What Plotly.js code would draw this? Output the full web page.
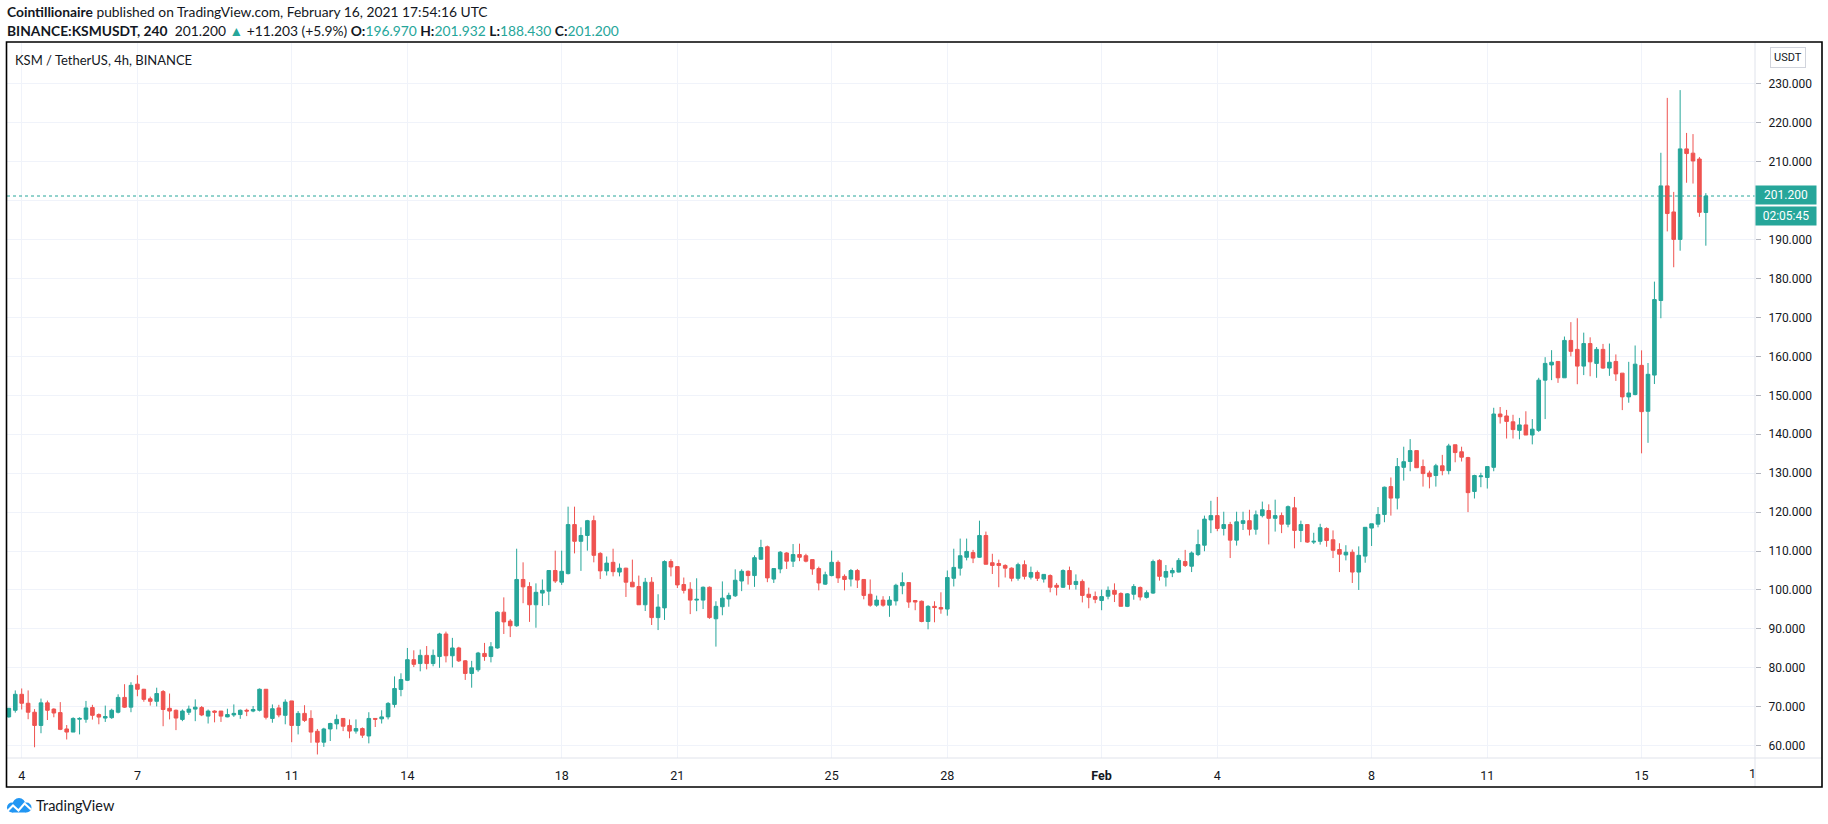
<!DOCTYPE html>
<html>
<head>
<meta charset="utf-8">
<script src="https://cdn.plot.ly/plotly-3.0.1.min.js"></script>
<style>
  html, body { margin: 0; padding: 0; background: #ffffff; }
  #chart { width: 1828px; height: 824px; }
</style>
</head>
<body>
<div id="chart"></div>
<script>
// ---- Data: KSM/USDT 4h candles, first bar 2021-01-03 16:00 UTC ----
const firstBar = '2021-01-03T16:00:00Z';
const barHours = 4;

const openP = [
67.4,69.1,73.2,70.9,68.6,65.2,71.0,69.4,68.5,64.3,63.5,66.8,66.8,69.8,68.0,67.1,67.2,68.6,72.4,69.9,
75.8,74.5,72.05,71.4,73.9,69.6,69.1,66.75,68.6,69.4,69.8,67.6,68.9,68.9,67.4,67.9,68.0,69.1,68.9,69.1,
74.5,67.0,69.7,67.8,71.5,65.2,68.3,67.0,63.7,60.9,64.3,65.6,67.0,65.2,63.75,64.4,62.5,67.0,66.9,67.4,
70.6,74.45,76.8,82.1,81.1,83.2,81.1,82.9,88.7,83.1,85.1,81.8,78.55,79.5,83.7,82.9,85.1,94.3,92.0,90.8,
102.7,100.9,96.2,99.2,99.7,105.0,102.0,104.2,116.8,112.5,114.0,117.8,109.4,104.9,107.1,104.6,105.6,102.0,100.9,96.2,
102.0,92.9,95.4,107.3,106.0,101.4,100.2,97.4,97.4,100.7,92.6,95.7,97.7,98.5,102.3,104.8,103.7,107.9,111.1,102.8,
105.4,109.5,107.4,109.1,108.8,107.8,105.5,101.5,103.7,107.1,103.5,102.8,105.0,102.7,98.9,96.1,97.4,96.1,97.2,101.1,
101.9,97.3,97.1,91.9,95.8,95.5,95.1,103.0,105.6,108.4,109.6,108.4,114.0,107.0,106.8,106.3,105.6,103.0,106.5,103.3,
104.5,102.8,103.7,101.2,100.7,105.0,101.4,102.2,98.9,98.3,97.3,98.4,99.9,99.1,95.8,98.9,100.65,98.1,99.2,107.6,
103.3,104.4,104.6,107.3,106.1,109.1,111.5,118.0,119.1,115.8,116.8,112.8,117.1,117.8,115.6,119.1,120.4,118.4,119.1,116.9,
121.1,115.3,116.8,112.3,112.5,115.8,112.9,110.4,109.0,109.7,104.6,108.7,115.9,116.9,119.4,126.55,123.6,131.5,133.0,135.8,
131.7,130.05,129.4,131.9,130.65,137.3,135.5,134.0,125.3,129.1,128.9,131.5,145.2,144.7,143.2,141.0,142.4,139.8,141.0,153.9,
157.8,158.7,154.5,164.1,161.8,157.5,163.3,158.2,161.8,157.0,158.7,155.7,149.6,150.2,157.7,145.9,155.2,174.35,203.8,197.1,
190.05,213.3,212.2,210.7,196.97
];
const highP = [
69.7,74.2,74.7,74.2,69.4,72.1,71.6,69.6,71.2,65.3,67.3,67.3,71.5,70.5,68.3,70.3,69.5,73.2,75.8,76.3,
78.1,74.6,72.6,74.9,74.3,73.4,69.3,69.3,70.3,71.9,70.2,69.3,69.1,68.9,69.5,70.6,69.3,69.5,70.2,74.7,
74.5,70.6,70.5,71.9,71.5,68.9,70.4,69.1,64.3,64.6,65.9,68.0,67.0,66.75,66.75,64.7,68.6,67.0,69.1,71.2,
77.8,78.6,85.1,84.5,84.7,85.6,84.7,89.0,89.3,87.7,85.4,82.0,81.8,84.1,86.4,86.6,94.55,98.1,92.5,110.6,
107.1,102.0,101.7,102.7,105.0,110.1,110.1,121.4,121.4,116.1,118.0,119.1,109.7,108.6,110.6,106.8,105.7,107.8,103.7,103.1,
103.3,98.9,107.6,107.9,106.0,103.2,102.0,103.0,100.9,100.9,97.1,102.2,99.3,105.3,105.3,105.0,108.9,112.9,111.4,105.5,
110.0,109.7,111.8,111.9,109.3,107.8,106.0,104.7,110.1,107.6,104.0,105.4,105.4,102.7,102.7,98.55,98.4,98.4,101.6,104.5,
101.9,97.4,97.3,96.1,97.1,99.4,105.0,110.6,113.2,113.2,110.3,117.8,115.0,109.3,107.8,106.6,105.8,107.0,107.6,106.0,
105.0,104.1,104.0,101.8,105.3,106.0,104.0,102.7,100.6,99.6,100.1,100.9,101.7,99.4,99.2,101.5,100.9,99.9,107.8,107.9,
106.4,105.7,108.2,110.3,109.9,115.5,119.1,122.9,123.9,120.1,117.5,120.1,120.1,120.6,120.4,122.7,122.0,123.2,119.9,121.7,
123.9,117.8,116.95,114.7,117.0,116.1,115.3,112.0,111.5,110.4,111.2,116.1,117.0,121.3,126.55,128.9,133.9,136.8,138.75,135.8,
133.5,130.65,132.4,134.7,137.55,137.3,136.8,134.2,129.6,130.1,131.7,146.8,147.0,146.25,145.0,144.2,145.9,143.9,154.5,159.8,
161.6,158.7,165.1,168.8,169.8,166.1,164.9,162.4,163.2,163.3,160.5,155.7,158.6,162.8,161.55,158.3,179.2,212.3,226.4,202.25,
228.4,217.4,217.1,211.2,201.932
];
const lowP = [
67.2,68.5,69.3,66.8,59.6,63.2,66.6,67.3,64.0,61.6,63.5,62.9,65.9,66.7,65.5,66.1,66.9,68.3,69.7,68.6,
72.7,71.3,70.3,70.1,65.0,66.75,64.0,66.3,67.9,66.3,67.6,65.7,66.0,66.1,67.3,67.4,66.9,67.6,68.6,68.8,
66.75,65.9,67.3,65.5,60.9,62.9,66.1,60.75,57.75,59.7,61.2,64.2,63.75,61.9,63.1,62.0,60.6,64.8,65.7,66.75,
69.8,72.7,76.6,80.2,79.1,79.6,80.4,80.0,81.4,80.1,81.5,76.9,74.9,79.0,81.8,81.4,84.9,88.7,87.9,90.55,
96.6,91.8,90.3,95.9,96.1,101.8,101.3,104.0,109.4,104.9,110.1,107.1,102.8,103.7,103.5,103.5,98.2,100.8,96.2,94.6,
91.0,89.7,92.3,103.5,100.5,99.1,93.8,94.55,95.1,92.6,85.45,93.5,95.7,98.2,99.7,101.4,100.8,107.8,102.0,101.8,
104.3,105.4,105.9,107.4,107.1,103.9,99.9,101.3,103.5,101.8,99.9,100.9,100.5,97.6,95.7,95.7,95.7,93.1,96.0,98.9,
95.4,94.8,91.7,89.9,91.7,93.9,93.4,100.9,103.7,107.6,106.9,108.3,106.6,104.1,100.7,103.2,102.2,102.4,102.7,102.7,
102.3,101.9,99.4,98.6,100.5,100.1,100.1,96.8,95.3,96.6,94.8,97.6,96.9,95.8,95.6,97.5,97.3,97.8,99.0,102.4,
100.9,103.3,104.5,105.9,104.6,108.7,109.95,114.6,115.1,114.0,108.2,111.4,115.4,114.0,114.2,118.65,111.7,115.0,114.6,116.1,
110.7,112.3,112.1,111.8,111.65,111.1,108.2,104.6,107.6,101.8,100.0,107.0,111.3,116.1,117.4,119.1,120.7,128.1,130.5,131.4,
126.55,126.1,126.55,129.45,129.7,132.8,133.0,120.0,123.5,126.4,126.05,130.5,142.75,138.9,138.9,138.7,139.8,137.4,140.6,143.9,
153.9,153.2,154.5,160.0,152.85,155.2,154.9,154.5,156.8,155.0,153.7,146.2,148.1,150.0,135.1,137.8,152.9,169.8,192.1,182.9,
187.15,204.6,204.4,195.85,188.43
];
const closeP = [
69.6,73.2,70.9,68.6,65.2,71.0,69.1,68.4,64.2,63.5,67.0,67.0,69.7,67.8,67.35,67.5,69.1,72.4,69.9,75.5,
74.5,71.9,71.4,73.4,69.3,68.9,67.1,68.9,69.4,69.9,67.9,68.9,68.6,67.6,68.0,68.3,69.1,68.9,69.3,74.5,
67.3,69.5,67.9,71.2,65.2,68.3,66.5,63.5,60.9,64.3,65.7,66.75,65.0,63.75,64.4,62.7,67.0,66.8,67.4,70.86,
74.7,77.0,82.1,80.9,83.2,81.1,83.2,88.7,83.1,85.1,81.8,78.55,80.0,83.8,82.9,85.4,94.3,91.8,90.8,102.7,
100.8,96.2,99.4,99.9,105.0,102.3,104.8,116.8,112.5,114.0,117.8,108.9,104.9,106.9,104.7,105.6,102.0,100.8,96.2,102.0,
92.9,95.6,107.3,105.9,101.3,99.9,97.4,97.6,100.7,92.9,95.8,97.9,98.6,102.5,104.8,103.7,108.3,110.9,103.1,105.5,
109.7,107.4,109.1,108.4,107.4,105.4,101.8,103.9,107.1,103.1,102.7,105.0,102.55,98.6,96.1,97.4,96.1,97.4,101.2,101.9,
96.9,96.9,91.9,95.8,95.5,95.1,103.2,105.8,108.8,109.9,108.2,114.0,106.6,106.3,106.3,105.6,103.0,106.5,103.5,104.5,
103.0,104.0,100.7,100.7,105.0,101.4,102.2,98.6,98.1,97.6,98.3,99.9,98.9,95.8,99.0,100.9,98.2,99.3,107.3,103.5,
104.75,105.0,107.6,106.3,109.5,111.65,118.2,119.1,115.8,116.8,112.8,117.5,117.8,115.6,119.3,120.6,118.4,119.1,116.9,121.4,
115.3,116.8,112.3,112.5,116.0,112.7,110.2,109.2,109.7,104.6,108.9,116.1,117.0,119.4,126.4,123.6,131.7,132.95,135.8,131.4,
129.9,129.1,131.9,130.65,137.0,135.3,134.1,125.0,129.4,129.3,131.7,145.2,144.5,143.3,141.2,142.4,139.8,141.3,153.9,158.2,
158.5,154.5,164.1,161.3,157.5,163.3,158.6,161.8,157.0,158.5,155.5,149.6,150.6,158.0,145.8,155.4,174.6,203.8,196.7,190.05,
213.3,212.1,210.2,197.0,201.2
];

// axis ticks
const dayTicks  = ['2021-01-04','2021-01-07','2021-01-11','2021-01-14','2021-01-18','2021-01-21','2021-01-25',
                   '2021-01-28','2021-02-01','2021-02-04','2021-02-08','2021-02-11','2021-02-15'];
const dayLabels = ['4','7','11','14','18','21','25','28','<b>Feb</b>','4','8','11','15'];
const priceTicks = [60,70,80,90,100,110,120,130,140,150,160,170,180,190,200,210,220,230];
// the 200 label is hidden behind the last-price box in the reference
const priceLabels = priceTicks.map(v => (v === 200 ? '' : v.toFixed(3)));

const lastPrice = 201.2;
const countdown = '02:05:45';

// build bar timestamps
const times = [];
const t0 = Date.parse(firstBar);
for (let i = 0; i < closeP.length; i++) {
  times.push(new Date(t0 + i * barHours * 3600e3).toISOString().slice(0, 16).replace('T', ' '));
}

const UP = '#26a69a', DOWN = '#ef5350', TXT = '#131722', GRID = '#f0f3fa', BORDER = '#e0e3eb';
const FONT = 'Roboto, "DejaVu Sans", sans-serif';
const HFONT = '"Liberation Sans Narrow", Lato, "Open Sans", sans-serif';

const trace = {
  type: 'candlestick',
  x: times, open: openP, high: highP, low: lowP, close: closeP,
  increasing: { line: { color: UP, width: 1 }, fillcolor: UP },
  decreasing: { line: { color: DOWN, width: 1 }, fillcolor: DOWN },
  whiskerwidth: 0,
  showlegend: false,
  hoverinfo: 'skip'
};

const W = 1828, H = 824;
const L = 7, R = 73, T = 43, B = 66;
const pw = W - L - R, ph = H - T - B;
const px = x => (x - L) / pw;           // pixel -> paper x
const py = y => (H - B - y) / ph;       // pixel -> paper y

const logoSvg = '<svg xmlns="http://www.w3.org/2000/svg" width="26" height="16" viewBox="0 0 26 16">' +
  '<circle cx="6" cy="10" r="5" fill="#2196f3"/><circle cx="13" cy="7" r="6.5" fill="#2196f3"/>' +
  '<circle cx="20.5" cy="10" r="5" fill="#2196f3"/><rect x="6" y="9" width="14" height="6" fill="#2196f3"/>' +
  '<polyline points="1,14 7,8 12.5,13 18.5,6 25,12" fill="none" stroke="#ffffff" stroke-width="2"/></svg>';

const layout = {
  width: W, height: H,
  margin: { l: L, r: R, t: T, b: B, pad: 0 },
  paper_bgcolor: '#ffffff', plot_bgcolor: '#ffffff',
  font: { family: FONT, size: 12, color: TXT },
  boxgap: 0.2,
  xaxis: {
    type: 'date',
    range: ['2021-01-03 14:51', '2021-02-17 22:35'],
    rangeslider: { visible: false },
    tickmode: 'array', tickvals: dayTicks, ticktext: dayLabels,
    showgrid: true, gridcolor: GRID, gridwidth: 1,
    showline: false, zeroline: false,
    ticks: '', tickfont: { family: FONT, size: 12.5, color: TXT },
    ticklabelstandoff: 8,
    fixedrange: true
  },
  yaxis: {
    side: 'right',
    range: [56.84, 240.5],
    tickmode: 'array', tickvals: priceTicks, ticktext: priceLabels,
    showgrid: true, gridcolor: GRID, gridwidth: 1,
    showline: false, zeroline: false,
    ticks: 'outside', ticklen: 5, tickcolor: '#b2b5be', tickwidth: 1,
    tickfont: { family: FONT, size: 12, color: TXT },
    ticklabelstandoff: 5,
    fixedrange: true
  },
  shapes: [
    // last price dotted line
    { type: 'line', xref: 'paper', yref: 'y', x0: 0, x1: 1, y0: lastPrice, y1: lastPrice,
      line: { color: UP, width: 1, dash: 'dot' } },
    // price-scale separator
    { type: 'line', xref: 'paper', yref: 'paper', x0: 1, x1: 1, y0: py(787), y1: py(42),
      line: { color: BORDER, width: 1 } },
    // time-scale line
    { type: 'line', xref: 'paper', yref: 'paper', x0: 0, x1: px(1822), y0: 0, y1: 0,
      line: { color: BORDER, width: 1 } },
    // outer frame
    { type: 'rect', xref: 'paper', yref: 'paper', x0: px(6.5), x1: px(1822), y0: py(787), y1: py(42),
      line: { color: '#000000', width: 1.6 } }
  ],
  images: [
    { source: 'data:image/svg+xml;charset=utf-8,' + encodeURIComponent(logoSvg),
      xref: 'paper', yref: 'paper', x: px(6), y: py(805.5), sizex: 26 / pw, sizey: 16 / ph,
      xanchor: 'left', yanchor: 'middle', sizing: 'stretch', layer: 'above' }
  ],
  annotations: [
    { xref: 'paper', yref: 'paper', x: px(5), y: py(12), xanchor: 'left', yanchor: 'middle', showarrow: false,
      text: '<b>Cointillionaire</b> published on TradingView.com, February 16, 2021 17:54:16 UTC',
      font: { family: HFONT, size: 13.8, color: TXT } },
    { xref: 'paper', yref: 'paper', x: px(5), y: py(30), xanchor: 'left', yanchor: 'middle', showarrow: false,
      text: '<b>BINANCE:KSMUSDT, 240</b>  201.200 <span style="color:' + UP + '">▲</span> +11.203 (+5.9%) ' +
            '<b>O:</b><span style="color:' + UP + '">196.970</span> <b>H:</b><span style="color:' + UP + '">201.932</span> ' +
            '<b>L:</b><span style="color:' + UP + '">188.430</span> <b>C:</b><span style="color:' + UP + '">201.200</span>',
      font: { family: HFONT, size: 13.8, color: TXT } },
    { xref: 'paper', yref: 'paper', x: px(13), y: py(60), xanchor: 'left', yanchor: 'middle', showarrow: false,
      text: 'KSM / TetherUS, 4h, BINANCE', font: { family: HFONT, size: 13, color: TXT } },
    { xref: 'paper', yref: 'paper', x: px(1788), y: py(58), xanchor: 'center', yanchor: 'middle', showarrow: false,
      text: 'USDT', font: { family: FONT, size: 11, color: TXT },
      bordercolor: '#d1d4dc', borderwidth: 1, borderpad: 3, bgcolor: '#ffffff' },
    { xref: 'paper', yref: 'y', x: 1, y: lastPrice, yshift: 1, xanchor: 'left', yanchor: 'middle', showarrow: false,
      text: lastPrice.toFixed(3), font: { family: FONT, size: 12, color: '#ffffff' },
      bgcolor: UP, width: 56, height: 14, borderpad: 2, align: 'center' },
    { xref: 'paper', yref: 'y', x: 1, y: lastPrice, yshift: -20, xanchor: 'left', yanchor: 'middle', showarrow: false,
      text: countdown, font: { family: FONT, size: 12, color: '#ffffff' },
      bgcolor: UP, width: 56, height: 14, borderpad: 2, align: 'center' },
    { xref: 'x', yref: 'paper', x: '2021-02-17 20:48', y: py(773), xanchor: 'center', yanchor: 'middle', showarrow: false,
      text: '1', font: { family: FONT, size: 12.5, color: TXT } },
    { xref: 'paper', yref: 'paper', x: px(34), y: py(805.5), xanchor: 'left', yanchor: 'middle', showarrow: false,
      text: 'TradingView', font: { family: HFONT, size: 14.5, color: TXT } }
  ]
};

Plotly.newPlot('chart', [trace], layout, { staticPlot: true, displayModeBar: false });
</script>
</body>
</html>
